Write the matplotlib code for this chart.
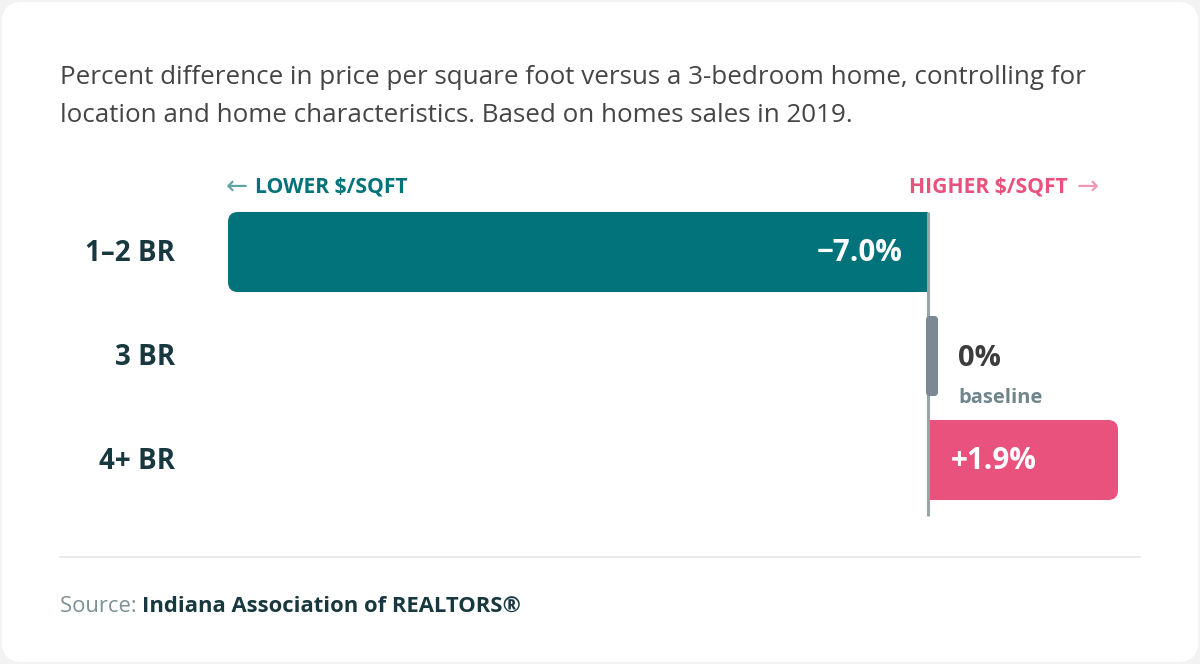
import matplotlib
matplotlib.use("Agg")
import matplotlib.pyplot as plt
from matplotlib.patches import FancyBboxPatch, Rectangle

plt.rcParams['font.family'] = ['Open Sans', 'DejaVu Sans']

# data
categories = ["1–2 BR", "3 BR", "4+ BR"]
values = [-7.0, 0.0, 1.9]
value_labels = ["−7.0%", "0%", "+1.9%"]
subtitle = ["Percent difference in price per square foot versus a 3-bedroom home, controlling for",
            "location and home characteristics. Based on homes sales in 2019."]
source_name = "Indiana Association of REALTORS®"

TEAL = "#02737a"
PINK = "#e8527c"
DARK = "#17383e"
GRAY_LINE = "#98a5a5"
BASE_GRAY = "#7c8893"

W, H = 1200, 664
fig = plt.figure(figsize=(W / 100, H / 100), dpi=100)
fig.patch.set_facecolor("#f3f3f3")


def fx(px):
    return px / W


def fy(py):
    return 1 - py / H


# white card
card = FancyBboxPatch((fx(2), fy(662)), fx(1196), 660 / H,
                      boxstyle="round,pad=0,rounding_size=0.017",
                      mutation_aspect=W / H, transform=fig.transFigure,
                      facecolor="white", edgecolor="none", zorder=-10)
fig.patches.append(card)

# axes: x pixel 228..1118, y pixel 200..530
ax = fig.add_axes([fx(228), fy(530), fx(890), 330 / H], zorder=2)
ax.set_xlim(-7.0, 1.9)
ax.set_ylim(2.673, -0.5)
ax.axis("off")

ypos = list(range(len(categories)))
bar_h = 0.77
bars = ax.barh(ypos, values, height=bar_h, color=[TEAL, BASE_GRAY, PINK])

# rounded on the outer end, square at zero
asp = 100 / 104
r = 0.1
for b, v in zip(bars, values):
    b.set_visible(False)
    if v == 0:
        continue
    x0, w = b.get_x(), b.get_width()
    x0, w = min(x0, x0 + w), abs(w)
    y0, h = b.get_y(), b.get_height()
    col = b.get_facecolor()
    ax.add_patch(FancyBboxPatch((x0, y0), w, h, boxstyle=f"round,pad=0,rounding_size={r}",
                                mutation_aspect=asp, facecolor=col, edgecolor="none", zorder=2))
    xs = 0 if v > 0 else v / 2
    ax.add_patch(Rectangle((xs, y0), abs(v) / 2, h, facecolor=col, edgecolor="none", zorder=2))

# zero line
ax.plot([0, 0], [-0.385, 2.54], color=GRAY_LINE, lw=2.2, zorder=3, solid_capstyle="butt")

# baseline marker for 3 BR
ax.add_patch(FancyBboxPatch((-0.02, 1 - bar_h / 2), 0.12, bar_h,
                            boxstyle="round,pad=0,rounding_size=0.04", mutation_aspect=asp,
                            facecolor=BASE_GRAY, edgecolor="none", zorder=4))

# row labels
for y, c in zip(ypos, categories):
    ax.text(-7.0 - 0.53, y + 0.015, c, ha="right", va="center", fontsize=20,
            fontweight="bold", color=DARK)

# value labels
ax.text(-0.25, 0.01, value_labels[0], ha="right", va="center", fontsize=21.3,
        fontweight="bold", color="white", zorder=5)
ax.text(0.23, 2.01, value_labels[2], ha="left", va="center", fontsize=21.3,
        fontweight="bold", color="white", zorder=5)
ax.text(0.3, 1.025, value_labels[1], ha="left", va="center", fontsize=21,
        fontweight="bold", color="#3c3c3c", zorder=5)
ax.text(0.3, 1.4, "baseline", ha="left", va="center", fontsize=14.5,
        fontweight="bold", color="#6f878c", zorder=5)

# direction labels
fig.text(fx(226), fy(188), "←", ha="left", va="center", fontsize=19, color="#5fa3a7",
         family="DejaVu Sans")
fig.text(fx(255), fy(187), "LOWER $/SQFT", ha="left", va="center", fontsize=15.2,
         fontweight="bold", color=TEAL)
fig.text(fx(1099), fy(188), "→", ha="right", va="center", fontsize=19, color="#ef97b0",
         family="DejaVu Sans")
fig.text(fx(1068), fy(187), "HIGHER $/SQFT", ha="right", va="center", fontsize=15.2,
         fontweight="bold", color=PINK)

# subtitle
fig.text(fx(60), fy(84), subtitle[0], ha="left", va="baseline", fontsize=18.7, color="#454545")
fig.text(fx(60), fy(122), subtitle[1], ha="left", va="baseline", fontsize=18.7, color="#454545")

# separator
fig.add_artist(plt.Line2D([fx(60), fx(1140)], [fy(557), fy(557)], color="#e6e6e6",
                          lw=1.2, transform=fig.transFigure))

# source
t = fig.text(fx(60), fy(612), "Source: ", ha="left", va="baseline", fontsize=15.8,
             color="#7b9196")
fig.canvas.draw()
bb = t.get_window_extent()
fig.text(bb.x1 / W, fy(612), source_name, ha="left", va="baseline", fontsize=15.8,
         fontweight="bold", color=DARK)

fig.savefig("out.png", dpi=100, facecolor=fig.get_facecolor())
